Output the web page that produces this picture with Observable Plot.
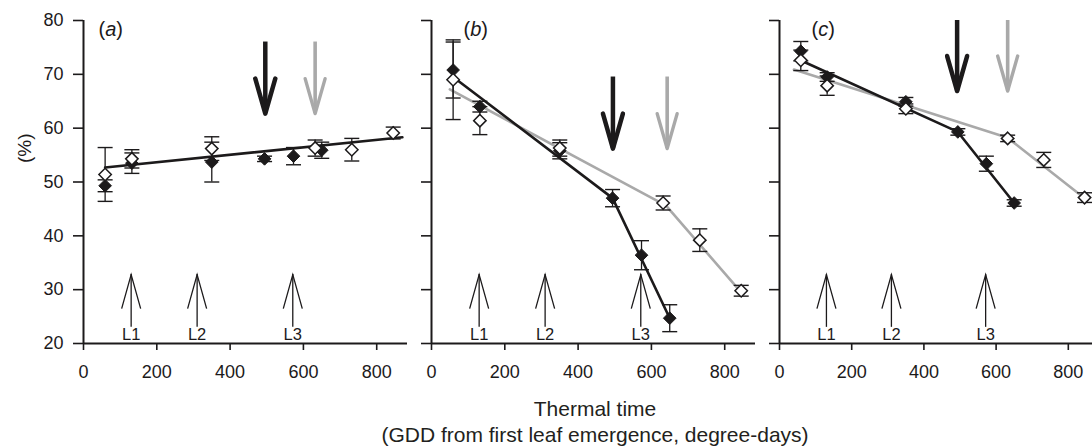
<!DOCTYPE html>
<html>
<head>
<meta charset="utf-8">
<script src="https://cdn.jsdelivr.net/npm/d3@7"></script>
<script src="https://cdn.jsdelivr.net/npm/@observablehq/plot@0.6"></script>
<style>
  body { margin: 0; background: #fff; font-family: "Liberation Sans", Arial, sans-serif; }
  #row { display: flex; width: 1092px; overflow: hidden; }
  #row svg { display: block; flex: none; max-width: none; }
  #caption { width: 994px; margin-left: 98px; text-align: center; font-size: 21px; line-height: 25.7px; color: #231f20; }
</style>
</head>
<body>
<div id="row"></div>
<div id="caption">Thermal time<br>(GDD from first leaf emergence, degree-days)</div>
<script>
// ---------- data ----------
const xTicks = [0, 200, 400, 600, 800];
const yTicks = [20, 30, 40, 50, 60, 70, 80];
const panelLabels = ["(a)", "(b)", "(c)"];

// sampling times (thermal time, GDD)
const filledTime = [59, 132, 350, 494, 573, 650];
const openTime   = [59, 132, 350, 632, 732, 845];

// panel (a)
const filledA    = [49.3, 53.5, 53.7, 54.3, 54.8, 55.9];
const filledErrA = [1.1, 1.9, 3.7, 0.5, 1.6, 1.5];
const openA      = [51.4, 54.3, 56.2, 56.3, 56.0, 59.1];
const openErrA   = [5.0, 1.7, 2.2, 1.5, 2.1, 1.1];

// panel (b)
const filledB    = [70.8, 64.0, 55.8, 47.0, 36.4, 24.7];
const filledErrB = [5.2, 1.0, 1.5, 1.6, 2.7, 2.5];
const openB      = [69.0, 61.4, 56.3, 46.1, 39.2, 29.8];
const openErrB   = [7.4, 2.6, 1.5, 1.3, 2.1, 1.0];

// panel (c)
const filledC    = [74.3, 69.5, 64.9, 59.3, 53.4, 46.1];
const filledErrC = [1.8, 0.8, 0.8, 0.6, 1.4, 0.6];
const openC      = [72.6, 67.9, 63.6, 58.1, 54.1, 47.1];
const openErrC   = [1.9, 1.8, 0.9, 0.6, 1.4, 0.9];

// fitted (broken-stick) lines
const fitBlackTimeA = [59, 870];       const fitBlackA = [52.7, 58.3];
const fitBlackTimeB = [59, 494, 650];  const fitBlackB = [69.5, 47.0, 24.7];
const fitGreyTimeB  = [50, 640, 845];  const fitGreyB  = [67.2, 45.6, 29.5];
const fitBlackTimeC = [52, 494, 650];  const fitBlackC = [72.8, 59.3, 46.1];
const fitGreyTimeC  = [40, 632, 845];  const fitGreyC  = [70.9, 58.2, 47.0];

// breakpoint arrows (black, grey) and their vertical extent per panel
const blackBreakTime = [496, 495, 492];
const greyBreakTime  = [632, 643, 632];
const breakArrowTop  = [76.0, 69.5, 80.0];
const breakArrowTip  = [62.7, 56.2, 66.9];

// leaf appearance arrows
const leafTime  = [130, 310, 571];
const leafNames = ["L1", "L2", "L3"];
const leafArrowBase = [23.0, 23.0, 23.0];
const leafArrowTip  = [32.8, 32.8, 32.8];
const leafLabelY    = [21.7, 21.7, 21.7];

// ---------- styling ----------
const ink = "#1c1a1b";
const greyInk = "#a9a9a9";
const FONT = "'Liberation Sans', Arial, sans-serif";

const capSymbol = { draw(ctx) { ctx.moveTo(-7.5, 0); ctx.lineTo(7.5, 0); } };
const downHead  = { draw(ctx) { ctx.moveTo(-10, -35); ctx.lineTo(0, 0); ctx.lineTo(10, -35); } };
const upHead    = { draw(ctx) { ctx.moveTo(-9.5, 34); ctx.lineTo(0, 0); ctx.lineTo(9.5, 34); } };

const series = (time, mean, err) =>
  time.map((t, i) => ({ t, v: mean[i], lo: mean[i] - err[i], hi: mean[i] + err[i] }));
const line = (time, vals) => time.map((t, i) => ({ t, v: vals[i] }));

const panels = [
  { filled: filledA, filledErr: filledErrA, open: openA, openErr: openErrA,
    black: line(fitBlackTimeA, fitBlackA), grey: null,
    width: 407, marginLeft: 83, xMax: 884, labelDx: 15 },
  { filled: filledB, filledErr: filledErrB, open: openB, openErr: openErrB,
    black: line(fitBlackTimeB, fitBlackB), grey: line(fitGreyTimeB, fitGreyB),
    width: 348, marginLeft: 24, xMax: 884, labelDx: 32 },
  { filled: filledC, filledErr: filledErrC, open: openC, openErr: openErrC,
    black: line(fitBlackTimeC, fitBlackC), grey: line(fitGreyTimeC, fitGreyC),
    width: 337, marginLeft: 24, xMax: 867, labelDx: 32 }
];

const row = document.getElementById("row");

panels.forEach((p, idx) => {
  const filled = series(filledTime, p.filled, p.filledErr);
  const open = series(openTime, p.open, p.openErr);
  const both = filled.concat(open);
  const blackArrow = [{ t: blackBreakTime[idx], top: breakArrowTop[idx], tip: breakArrowTip[idx] }];
  const greyArrow  = [{ t: greyBreakTime[idx], top: breakArrowTop[idx], tip: breakArrowTip[idx] }];
  const leaves = leafTime.map((t, i) => ({ t, name: leafNames[i], base: leafArrowBase[i], tip: leafArrowTip[i], ly: leafLabelY[i] }));

  const marks = [
    Plot.axisX({ ticks: xTicks, tickSize: 7, tickPadding: 15, strokeWidth: 1.6, label: null,
                 fontSize: 18, fill: ink, stroke: ink }),
    Plot.axisY({ ticks: yTicks, tickSize: 10, tickPadding: 10, strokeWidth: 1.6, label: null,
                 fontSize: 18, fill: ink, stroke: ink,
                 tickFormat: idx === 0 ? (d) => String(d) : () => "" }),
    Plot.ruleX([0], { stroke: ink, strokeWidth: 2 }),
    Plot.ruleY([20], { stroke: ink, strokeWidth: 2 }),

    // breakpoint arrows
    Plot.ruleX(greyArrow, { x: "t", y1: "top", y2: "tip", stroke: greyInk, strokeWidth: 3.6 }),
    Plot.dot(greyArrow, { x: "t", y: "tip", symbol: downHead, r: 5, fill: "none", stroke: greyInk,
                          strokeWidth: 3.4, strokeLinejoin: "round", strokeLinecap: "round" }),
    Plot.ruleX(blackArrow, { x: "t", y1: "top", y2: "tip", stroke: ink, strokeWidth: 4.5 }),
    Plot.dot(blackArrow, { x: "t", y: "tip", symbol: downHead, r: 5, fill: "none", stroke: ink,
                           strokeWidth: 4.5, strokeLinejoin: "round", strokeLinecap: "round" }),

    // leaf appearance arrows
    Plot.ruleX(leaves, { x: "t", y1: "base", y2: "tip", stroke: ink, strokeWidth: 1.3 }),
    Plot.dot(leaves, { x: "t", y: "tip", symbol: upHead, r: 5, fill: "none", stroke: ink, strokeWidth: 1.3 }),
    Plot.text(leaves, { x: "t", y: "ly", text: "name", fontSize: 16.5, fill: ink }),

    // panel label
    Plot.text([panelLabels[idx]], { text: (d) => d, frameAnchor: "top-left", textAnchor: "start",
                                    dx: p.labelDx, dy: 1, fontSize: 20, fill: ink, ariaLabel: "panel-label" })
  ];

  if (idx === 0) {
    marks.push(Plot.text(["(%)"], { text: (d) => d, frameAnchor: "left", rotate: -90,
                                    dx: -59, dy: -19, fontSize: 19, fill: ink }));
  }

  // fitted lines
  if (p.grey) marks.push(Plot.line(p.grey, { x: "t", y: "v", stroke: greyInk, strokeWidth: 2.6 }));
  marks.push(Plot.line(p.black, { x: "t", y: "v", stroke: ink, strokeWidth: 2.6 }));

  // error bars
  marks.push(
    Plot.ruleX(both, { x: "t", y1: "lo", y2: "hi", stroke: ink, strokeWidth: 1.3 }),
    Plot.dot(both, { x: "t", y: "lo", symbol: capSymbol, r: 4, fill: "none", stroke: ink, strokeWidth: 1.4 }),
    Plot.dot(both, { x: "t", y: "hi", symbol: capSymbol, r: 4, fill: "none", stroke: ink, strokeWidth: 1.4 })
  );

  // markers
  marks.push(
    Plot.dot(filled, { x: "t", y: "v", symbol: "diamond2", r: 5.7, fill: ink, stroke: ink, strokeWidth: 1 }),
    Plot.dot(open, { x: "t", y: "v", symbol: "diamond2", r: 5.6, fill: "white", stroke: ink, strokeWidth: 1.5 })
  );

  const svg = Plot.plot({
    width: p.width,
    height: 396,
    marginTop: 20,
    marginBottom: 53,
    marginLeft: p.marginLeft,
    marginRight: 0,
    x: { domain: [0, p.xMax] },
    y: { domain: [20, 80] },
    style: { fontFamily: FONT, fontSize: "18px", background: "white", color: ink, overflow: "visible" },
    marks
  });

  // italicise the panel letter
  const ns = "http://www.w3.org/2000/svg";
  svg.querySelectorAll("text").forEach((lab) => {
    const s = lab.textContent;
    if (s === panelLabels[idx]) {
      lab.textContent = "";
      lab.appendChild(document.createTextNode("("));
      const ts = document.createElementNS(ns, "tspan");
      ts.setAttribute("font-style", "italic");
      ts.textContent = s.slice(1, -1);
      lab.appendChild(ts);
      lab.appendChild(document.createTextNode(")"));
    }
  });
  row.appendChild(svg);
});
</script>
</body>
</html>
